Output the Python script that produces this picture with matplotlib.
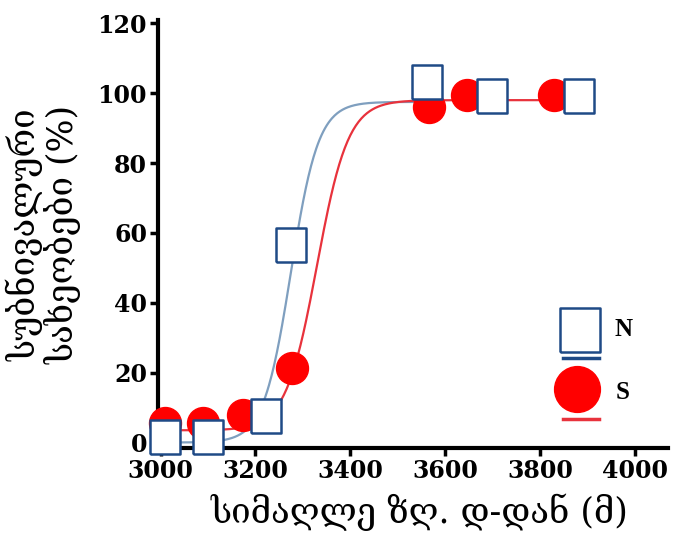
import matplotlib.pyplot as plt
import numpy as np

# altitude (m) and share of subnival species (%) on the north / south slopes
alt_n = [3009, 3100, 3222, 3276, 3561, 3699, 3882]
pct_n = [1.6, 1.6, 7.5, 56.5, 103.2, 99.1, 99.1]
alt_s = [3010, 3090, 3174, 3278, 3567, 3646, 3830]
pct_s = [5.6, 5.6, 7.9, 21.3, 96.1, 99.5, 99.5]

# Boltzmann sigmoid fits: bottom, top, x50, slope
fit_n = [0.0, 97.5, 3275, 29]
fit_s = [3.5, 98.0, 3330, 33]
fit_span_n = [3009, 3561]
fit_span_s = [3009, 3882]

x_ticks = [3000, 3200, 3400, 3600, 3800, 4000]
y_ticks = [0, 20, 40, 60, 80, 100, 120]

blue_edge = '#1f4a86'
blue_line = '#7f9fbf'
red = '#ff0000'
red_line = '#e8323c'

plt.rcParams['font.family'] = ['DejaVu Serif']


def boltzmann(x, p):
    bottom, top, x50, slope = p
    return bottom + (top - bottom) / (1 + np.exp((x50 - x) / slope))


# tall rectangle marker
rect = [(-0.44, -0.5), (0.44, -0.5), (0.44, 0.5), (-0.44, 0.5), (-0.44, -0.5)]

fig = plt.figure(figsize=(6.76, 5.35), dpi=100)
ax = fig.add_axes([0.234, 0.163, 0.754, 0.800])

xs = np.linspace(fit_span_n[0], fit_span_n[1], 300)
ax.plot(xs, boltzmann(xs, fit_n), color=blue_line, lw=1.6, zorder=2)
xs = np.linspace(fit_span_s[0], fit_span_s[1], 300)
ax.plot(xs, boltzmann(xs, fit_s), color=red_line, lw=1.6, zorder=2)

ax.plot(alt_s, pct_s, ls='none', marker='o', ms=23, mfc=red, mec=red,
        zorder=4, clip_on=False)
ax.plot(alt_n, pct_n, ls='none', marker=rect, ms=24, mfc='white',
        mec=blue_edge, mew=1.8, zorder=5, clip_on=False)

ax.set_xlim(2995, 4070)
ax.set_ylim(-1.5, 121)
ax.set_xticks(x_ticks)
ax.set_yticks(y_ticks)
for side in ['top', 'right']:
    ax.spines[side].set_visible(False)
for side in ['left', 'bottom']:
    ax.spines[side].set_linewidth(3)
ax.tick_params(width=2.5, length=6, labelsize=17, pad=2)
for lab in ax.get_xticklabels() + ax.get_yticklabels():
    lab.set_fontweight('bold')

# hand-made legend
ax.plot([0.827], [0.276], transform=ax.transAxes, marker=rect, ms=32,
        mfc='white', mec=blue_edge, mew=1.8, clip_on=False)
ax.plot([0.794, 0.865], [0.210, 0.210], transform=ax.transAxes,
        color=blue_edge, lw=2.5, clip_on=False)
ax.text(0.895, 0.276, 'N', transform=ax.transAxes, fontsize=18,
        fontfamily='Liberation Serif', fontweight='bold', va='center')
ax.plot([0.822], [0.138], transform=ax.transAxes, marker='o', ms=33,
        mfc=red, mec=red, clip_on=False)
ax.plot([0.794, 0.865], [0.068, 0.068], transform=ax.transAxes,
        color=red_line, lw=2.5, clip_on=False)
ax.text(0.897, 0.130, 'S', transform=ax.transAxes, fontsize=18,
        fontfamily='Liberation Serif', fontweight='bold', va='center')

fig.text(0.065, 0.561, 'სუბნივალური\nსახეობები (%)', rotation=90,
         ha='center', va='center', fontsize=25, linespacing=1.05)
fig.text(0.621, 0.043, 'სიმაღლე ზღ. დ-დან (მ)', ha='center', va='center',
         fontsize=25)

fig.savefig('out.png', dpi=100)
